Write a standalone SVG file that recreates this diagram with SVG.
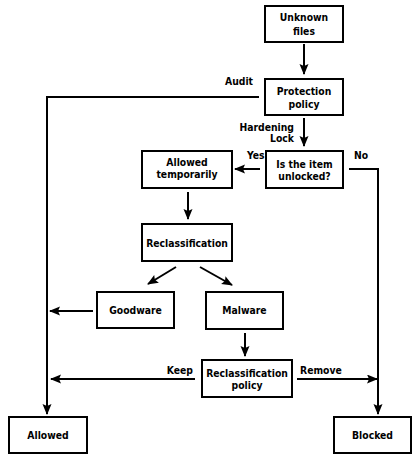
<svg xmlns="http://www.w3.org/2000/svg" width="420" height="460" viewBox="0 0 420 460">
<style>
.box{fill:#fff;stroke:#000;stroke-width:2}
text{font-family:"DejaVu Sans Condensed","DejaVu Sans",sans-serif;font-stretch:condensed;font-weight:bold;font-size:10.3px;fill:#000}
.c{text-anchor:middle}
.ln{fill:none;stroke:#000;stroke-width:2}
</style>
<defs>
<marker id="ah" markerUnits="userSpaceOnUse" markerWidth="12" markerHeight="10" refX="10" refY="4.5" orient="auto">
<path d="M0,0 L11,4.5 L0,9 L2,4.5 Z" fill="#000"/>
</marker>
</defs>
<rect width="420" height="460" fill="#fff"/>
<g id="connectors">
<line class="ln" x1="304" y1="44" x2="304" y2="74" marker-end="url(#ah)"/>
<line class="ln" x1="304" y1="118" x2="304" y2="146" marker-end="url(#ah)"/>
<polyline class="ln" points="259,97 47,97 47,414" marker-end="url(#ah)"/>
<line class="ln" x1="260" y1="169" x2="235" y2="169" marker-end="url(#ah)"/>
<polyline class="ln" points="349,169 378,169 378,414" marker-end="url(#ah)"/>
<line class="ln" x1="188" y1="192" x2="188" y2="219" marker-end="url(#ah)"/>
<line class="ln" x1="176" y1="267" x2="148" y2="284" marker-end="url(#ah)"/>
<line class="ln" x1="200" y1="267" x2="232" y2="285" marker-end="url(#ah)"/>
<line class="ln" x1="93" y1="311" x2="50" y2="311" marker-end="url(#ah)"/>
<line class="ln" x1="245" y1="333" x2="245" y2="356" marker-end="url(#ah)"/>
<line class="ln" x1="195" y1="379" x2="51" y2="379" marker-end="url(#ah)"/>
<line class="ln" x1="297" y1="379" x2="377" y2="379" marker-end="url(#ah)"/>
<text x="225" y="85">Audit</text>
<text x="294" y="131" text-anchor="end">Hardening</text>
<text x="294" y="142" text-anchor="end">Lock</text>
<text x="247" y="159">Yes</text>
<text x="354" y="159">No</text>
<text x="193" y="374" text-anchor="end">Keep</text>
<text x="300" y="374">Remove</text>
</g>
<g id="unknown-files">
<rect class="box" x="265" y="6" width="78" height="36"/>
<text class="c" x="304" y="21">Unknown</text>
<text class="c" x="304" y="35">files</text>
</g>
<g id="protection-policy">
<rect class="box" x="265" y="79" width="78" height="36"/>
<text class="c" x="304" y="95">Protection</text>
<text class="c" x="304" y="108">policy</text>
</g>
<g id="is-unlocked">
<rect class="box" x="266" y="151" width="77" height="37"/>
<text class="c" x="304.5" y="168">Is the item</text>
<text class="c" x="304.5" y="180">unlocked?</text>
</g>
<g id="allowed-temporarily">
<rect class="box" x="142" y="151" width="90" height="37"/>
<text class="c" x="187" y="166">Allowed</text>
<text class="c" x="187" y="178">temporarily</text>
</g>
<g id="reclassification">
<rect class="box" x="142" y="224" width="90" height="37"/>
<text class="c" x="187" y="247">Reclassification</text>
</g>
<g id="goodware">
<rect class="box" x="97" y="292" width="77" height="36"/>
<text class="c" x="135.5" y="314">Goodware</text>
</g>
<g id="malware">
<rect class="box" x="206" y="292" width="77" height="37"/>
<text class="c" x="244.5" y="314">Malware</text>
</g>
<g id="reclassification-policy">
<rect class="box" x="202" y="360" width="90" height="37"/>
<text class="c" x="247" y="377">Reclassification</text>
<text class="c" x="247" y="389">policy</text>
</g>
<g id="allowed">
<rect class="box" x="9" y="417" width="78" height="36"/>
<text class="c" x="48" y="439">Allowed</text>
</g>
<g id="blocked">
<rect class="box" x="334" y="417" width="77" height="36"/>
<text class="c" x="372.5" y="439">Blocked</text>
</g>
</svg>
